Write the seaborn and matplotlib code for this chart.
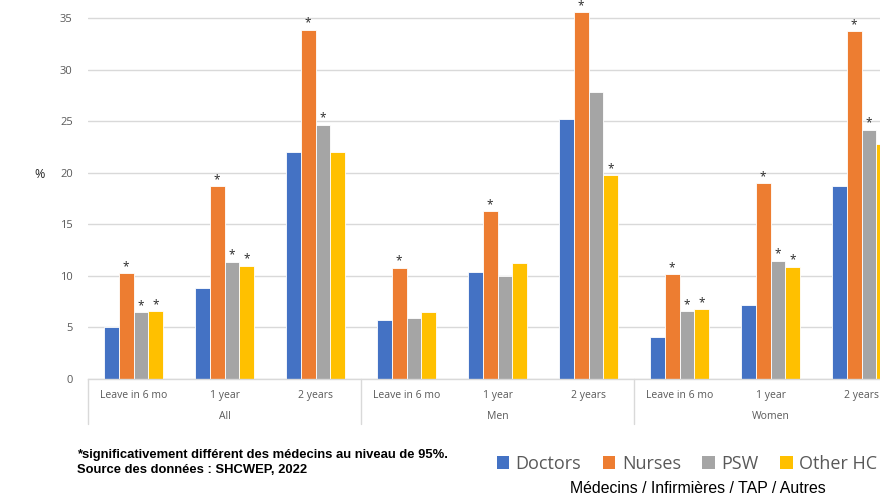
import matplotlib
matplotlib.use("Agg")
import matplotlib.pyplot as plt
import matplotlib.transforms as mtransforms
from matplotlib.patches import Patch
import seaborn as sns
import pandas as pd

groups = ["All", "Men", "Women"]
periods = ["Leave in 6 mo", "1 year", "2 years"]
professions = ["Doctors", "Nurses", "PSW", "Other HC"]

doctors = [5.0, 8.8, 22.0, 5.7, 10.4, 25.2, 4.1, 7.2, 18.7]
nurses = [10.3, 18.7, 33.9, 10.8, 16.3, 35.6, 10.2, 19.0, 33.8]
psw = [6.5, 11.4, 24.7, 5.9, 10.0, 27.9, 6.6, 11.5, 24.2]
other_hc = [6.6, 11.0, 22.0, 6.5, 11.3, 19.8, 6.8, 10.9, 22.8]

# significance flags (1 = significantly different from doctors)
sig_doctors = [0, 0, 0, 0, 0, 0, 0, 0, 0]
sig_nurses = [1, 1, 1, 1, 1, 1, 1, 1, 1]
sig_psw = [1, 1, 1, 0, 0, 0, 1, 1, 1]
sig_other = [1, 1, 0, 0, 0, 1, 1, 1, 0]

colors = ["#4472C4", "#ED7D31", "#A5A5A5", "#FFC000"]

cats = [f"{g}|{p}" for g in groups for p in periods]
rows = []
for prof, vals in zip(professions, [doctors, nurses, psw, other_hc]):
    for c, v in zip(cats, vals):
        rows.append({"cat": c, "prof": prof, "value": v})
df = pd.DataFrame(rows)

sns.set_theme(style="white")
plt.rcParams["font.family"] = ["Open Sans", "DejaVu Sans"]

fig = plt.figure(figsize=(8.8, 4.98), dpi=100)
ax = fig.add_axes([88 / 880, 119 / 498, 819 / 880, 376 / 498])

sns.barplot(data=df, x="cat", y="value", hue="prof", order=cats,
            hue_order=professions, palette=colors, width=0.645,
            edgecolor="white", linewidth=0.6, saturation=1, ax=ax,
            legend=False, errorbar=None)

ax.set_xlim(-0.5, len(cats) - 0.5)
ax.set_ylim(0, 36.5)
ax.set_yticks(range(0, 36, 5))
ax.grid(axis="y", color="#D9D9D9", linewidth=1)
ax.set_axisbelow(True)
for s in ["top", "right", "left"]:
    ax.spines[s].set_visible(False)
ax.spines["bottom"].set_color("#D9D9D9")
ax.spines["bottom"].set_linewidth(1)
ax.tick_params(axis="y", colors="#595959", labelsize=8, length=0, pad=11)
ax.tick_params(axis="x", colors="#595959", labelsize=7.5, length=0, pad=8)
ax.set_xticks(range(len(cats)))
ax.set_xticklabels([p for g in groups for p in periods])
ax.set_xlabel("")
ax.set_ylabel("")

# significance asterisks
sigs = [sig_doctors, sig_nurses, sig_psw, sig_other]
for cont, sig in zip(ax.containers, sigs):
    for bar, s in zip(cont, sig):
        if s:
            ax.annotate("*", (bar.get_x() + bar.get_width() / 2, bar.get_height()),
                        xytext=(0, 0), textcoords="offset points",
                        ha="center", va="bottom", fontsize=8.5, color="#262626",
                        annotation_clip=False)

# group labels and separators
trans = mtransforms.blended_transform_factory(ax.transData, ax.transAxes)
for i, g in enumerate(groups):
    ax.text(i * 3 + 1, -0.1, g, transform=trans, ha="center", va="center",
            fontsize=7.5, color="#595959")
    ax.plot([i * 3 - 0.5, i * 3 - 0.5], [0, -0.12], transform=trans,
            color="#D9D9D9", linewidth=1, clip_on=False)

fig.text(40 / 880, 1 - 175 / 498, "%", fontsize=9, color="#262626",
         ha="center", va="center")

fig.text(77 / 880, 1 - 455 / 498,
         "*significativement différent des médecins au niveau de 95%.",
         fontsize=9.4, fontweight="bold", family="Liberation Sans",
         ha="left", va="center", color="black")
fig.text(77 / 880, 1 - 470 / 498, "Source des données : SHCWEP, 2022",
         fontsize=9.4, fontweight="bold", family="Liberation Sans",
         ha="left", va="center", color="black")

handles = [Patch(facecolor=c, edgecolor="none") for c in colors]
fig.legend(handles, professions, loc="center", bbox_to_anchor=(687 / 880, 1 - 464 / 498),
           ncol=4, frameon=False, fontsize=13, labelcolor="#595959",
           handlelength=0.7, handleheight=0.7, handletextpad=0.35,
           columnspacing=1.2, borderaxespad=0, borderpad=0)

fig.text(698 / 880, 1 - 488 / 498, "Médecins / Infirmières / TAP / Autres",
         fontsize=11.4, family="Liberation Sans", ha="center", va="center",
         color="black")

fig.savefig("out.png", dpi=100)
